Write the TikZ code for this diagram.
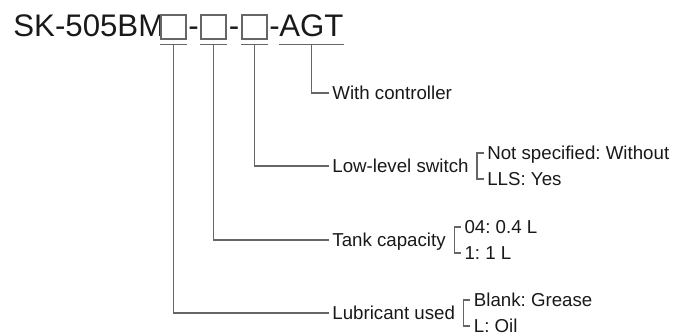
\documentclass[tikz,border=0pt]{standalone}
\usepackage{fontspec}
\setmainfont{Liberation Sans}
\usetikzlibrary{positioning}
\frenchspacing

\begin{document}
\begin{tikzpicture}[
    x=0.5pt, y=-0.5pt,
    every node/.style={inner sep=0pt, text=black!90},
    code/.style={font=\fontsize{15.6pt}{18pt}\selectfont, anchor=base west},
    slot/.style={draw=black!60, line width=0.6pt, minimum width=12.5pt, minimum height=12pt},
    item/.style={font=\fontsize{9.35pt}{11pt}\selectfont, text height=6.7pt, text depth=0pt, inner xsep=1.5pt, anchor=west},
    lead/.style={draw=black!60, line width=0.6pt}
]
\useasboundingbox (0,0) rectangle (690,336);

% model code
\node[code] (sk) at (13,37) {SK-505BM};
\node[slot] (s1) at (173.5,27) {};
\node[code, anchor=base] (d1) at (193.5,37) {-};
\node[slot] (s2) at (213.5,27) {};
\node[code, anchor=base] (d2) at (234,37) {-};
\node[slot] (s3) at (254.5,27) {};
\node[code, anchor=base] (d3) at (274.5,37) {-};
\node[code] (agt) at (279,37) {AGT};

% meanings
\node[item] (ctrl) at (329,93) {With controller};
\node[item] (lls) at (329,166) {Low-level switch};
\node[item] (tank) at (329,240) {Tank capacity};
\node[item] (lub) at (329,313) {Lubricant used};

\foreach \s in {s1,s2,s3}
    \draw[lead] ([yshift=-2.5pt]\s.south west) -- ([yshift=-2.5pt]\s.south east);
\draw[lead] ([yshift=-3.5pt]agt.south west) -- ([yshift=-3.5pt]agt.south east);

\draw[lead] ([yshift=-2.5pt]s1.south) |- (lub.west);
\draw[lead] ([yshift=-2.5pt]s2.south) |- (tank.west);
\draw[lead] ([yshift=-2.5pt]s3.south) |- (lls.west);
\draw[lead] ([yshift=-3.5pt]agt.south) |- (ctrl.west);

% options
\foreach \n/\hi/\lo in {lls/{Not specified: Without}/{LLS: Yes},
                        tank/{04: 0.4 L}/{1: 1 L},
                        lub/{Blank: Grease}/{L: Oil}} {
    \draw[lead] ([xshift=6pt,yshift=6.5pt]\n.east) -| ([xshift=2.5pt]\n.east)
        |- ([xshift=6pt,yshift=-6.5pt]\n.east);
    \node[item] (\n-hi) at ([xshift=6pt,yshift=6.5pt]\n.east) {\hi};
    \node[item] (\n-lo) at ([xshift=6pt,yshift=-6.5pt]\n.east) {\lo};
}
\end{tikzpicture}
\end{document}
